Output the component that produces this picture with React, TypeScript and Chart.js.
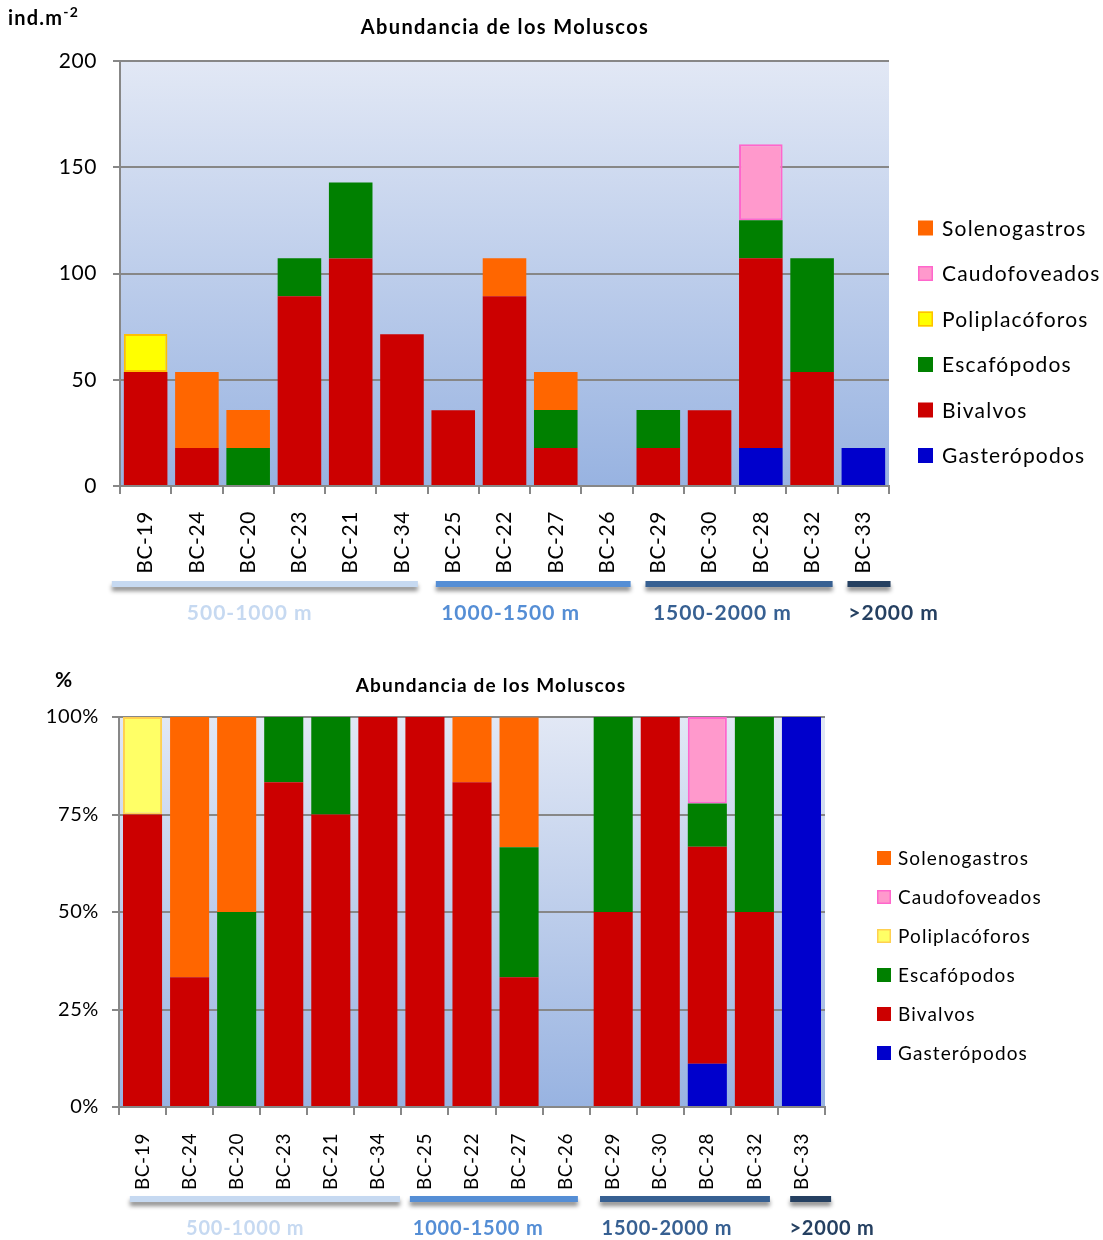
import React, { useEffect, useRef } from 'react';
import { Chart, registerables } from 'chart.js';

Chart.register(...registerables);

// ---------------- DATA ----------------
const categories = ['BC-19', 'BC-24', 'BC-20', 'BC-23', 'BC-21', 'BC-34', 'BC-25', 'BC-22', 'BC-27', 'BC-26', 'BC-29', 'BC-30', 'BC-28', 'BC-32', 'BC-33'];

// Abundance (ind.m-2)
const gasteropodos = [0, 0, 0, 0, 0, 0, 0, 0, 0, 0, 0, 0, 17.9, 0, 17.9];
const bivalvos = [53.6, 17.9, 0, 89.3, 107.1, 71.4, 35.7, 89.3, 17.9, 0, 17.9, 35.7, 89.3, 53.6, 0];
const escafopodos = [0, 0, 17.9, 17.9, 35.7, 0, 0, 0, 17.9, 0, 17.9, 0, 17.9, 53.6, 0];
const poliplacoforos = [17.9, 0, 0, 0, 0, 0, 0, 0, 0, 0, 0, 0, 0, 0, 0];
const caudofoveados = [0, 0, 0, 0, 0, 0, 0, 0, 0, 0, 0, 0, 35.7, 0, 0];
const solenogastros = [0, 35.7, 17.9, 0, 0, 0, 0, 17.9, 17.9, 0, 0, 0, 0, 0, 0];

// Relative abundance (%)
const gasteropodosPct = [0, 0, 0, 0, 0, 0, 0, 0, 0, 0, 0, 0, 11.1, 0, 100];
const bivalvosPct = [75, 33.3, 0, 83.3, 75, 100, 100, 83.3, 33.3, 0, 50, 100, 55.6, 50, 0];
const escafopodosPct = [0, 0, 50, 16.7, 25, 0, 0, 0, 33.3, 0, 50, 0, 11.1, 50, 0];
const poliplacoforosPct = [25, 0, 0, 0, 0, 0, 0, 0, 0, 0, 0, 0, 0, 0, 0];
const caudofoveadosPct = [0, 0, 0, 0, 0, 0, 0, 0, 0, 0, 0, 0, 22.2, 0, 0];
const solenogastrosPct = [0, 66.7, 50, 0, 0, 0, 0, 16.7, 33.3, 0, 0, 0, 0, 0, 0];

const absTicks = [0, 50, 100, 150, 200];
const pctTicks = [0, 25, 50, 75, 100];

const depthZones = ['500-1000 m', '1000-1500 m', '1500-2000 m', '>2000 m'];
const zoneStationCounts = [6, 4, 4, 1];

const chartTitle = 'Abundancia de los Moluscos';

// ---------------- STYLE ----------------
const FONT = 'Lato, "Open Sans", sans-serif';
const zoneColors = ['#C6D9F1', '#558ED5', '#376092', '#254061'];
const zoneLabelColors = ['#C6D9F1', '#558ED5', '#376092', '#254061'];
const GRID = '#878787';

type Series = { label: string; data: number[]; bg: string; border: string; bw: number };

function makeSeries(pct: boolean): Series[] {
  return [
    { label: 'Gasterópodos', data: pct ? gasteropodosPct : gasteropodos, bg: '#0000CC', border: '#0000CC', bw: 0 },
    { label: 'Bivalvos', data: pct ? bivalvosPct : bivalvos, bg: '#CC0000', border: '#CC0000', bw: 0 },
    { label: 'Escafópodos', data: pct ? escafopodosPct : escafopodos, bg: '#008000', border: '#008000', bw: 0 },
    { label: 'Poliplacóforos', data: pct ? poliplacoforosPct : poliplacoforos, bg: pct ? '#FFFF66' : '#FFFF00', border: pct ? '#FFD050' : '#FFC000', bw: 2 },
    { label: 'Caudofoveados', data: pct ? caudofoveadosPct : caudofoveados, bg: '#FF99CC', border: '#FF66CC', bw: 2 },
    { label: 'Solenogastros', data: pct ? solenogastrosPct : solenogastros, bg: '#FF6600', border: '#FF6600', bw: 0 },
  ];
}

type Layout = {
  width: number; height: number;
  area: { left: number; top: number; right: number; bottom: number };
  tickFont: number; xTickFont: number; xTickPad: number; yTickPad: number;
  barPct: number;
  title: { x: number; y: number; size: number; spacing: number };
  unit: { x: number; y: number; size: number; spacing: number; text: string; sup?: string };
  bandY: number; bandH: number;
  bandInsets: number[][];
  labelCenters: number[]; labelY: number; labelSize: number; labelSpacing: number;
  legend: { boxX: number; textX: number; y0: number; step: number; box: number; size: number; spacing: number };
  ticks: number[]; pct: boolean;
};

function makePlugins(L: Layout) {
  return [
    {
      id: 'bgGradient',
      beforeDraw(chart: any) {
        const { ctx, chartArea: a } = chart;
        const g = ctx.createLinearGradient(0, a.top, 0, a.bottom);
        g.addColorStop(0, '#E2E8F5');
        g.addColorStop(1, '#98B3E1');
        ctx.save();
        ctx.fillStyle = g;
        ctx.fillRect(a.left, a.top, a.right - a.left, a.bottom - a.top);
        ctx.restore();
        (ctx as any).letterSpacing = '0.6px';
      },
    },
    {
      id: 'decor',
      afterDraw(chart: any) {
        const { ctx } = chart;
        const xs = chart.scales.x;
        (ctx as any).letterSpacing = '0px';
        ctx.save();
        // title
        ctx.font = `bold ${L.title.size}px ${FONT}`;
        (ctx as any).letterSpacing = `${L.title.spacing}px`;
        ctx.fillStyle = '#000';
        ctx.textAlign = 'center';
        ctx.textBaseline = 'middle';
        ctx.fillText(chartTitle, L.title.x, L.title.y);
        // unit label
        (ctx as any).letterSpacing = `${L.unit.spacing}px`;
        ctx.textAlign = 'left';
        ctx.font = `bold ${L.unit.size}px ${FONT}`;
        ctx.fillText(L.unit.text, L.unit.x, L.unit.y);
        if (L.unit.sup) {
          const w = ctx.measureText(L.unit.text).width;
          ctx.font = `bold ${Math.round(L.unit.size * 0.68)}px ${FONT}`;
          ctx.fillText(L.unit.sup, L.unit.x + w, L.unit.y - 7);
        }
        (ctx as any).letterSpacing = '0px';
        // depth bands
        let start = 0;
        zoneStationCounts.forEach((n, i) => {
          const first = start;
          const last = start + n - 1;
          start += n;
          const [inL, inR] = L.bandInsets[i];
          const x0 = xs.getPixelForValue(first - 0.5 + inL);
          const x1 = xs.getPixelForValue(last + 0.5 - inR);
          ctx.save();
          ctx.shadowColor = 'rgba(0,0,0,0.45)';
          ctx.shadowBlur = 4;
          ctx.shadowOffsetY = 4;
          ctx.fillStyle = zoneColors[i];
          ctx.fillRect(x0, L.bandY, x1 - x0, L.bandH);
          ctx.restore();
          ctx.save();
          ctx.font = `bold ${L.labelSize}px ${FONT}`;
          (ctx as any).letterSpacing = `${L.labelSpacing}px`;
          ctx.fillStyle = zoneLabelColors[i];
          ctx.textAlign = 'center';
          ctx.textBaseline = 'middle';
          ctx.fillText(depthZones[i], xs.getPixelForValue(L.labelCenters[i]), L.labelY);
          ctx.restore();
        });
        // legend (reverse order of stacking)
        const ds = [...chart.data.datasets].reverse();
        const lg = L.legend;
        ds.forEach((d: any, i: number) => {
          const cy = lg.y0 + i * lg.step;
          ctx.fillStyle = d.backgroundColor;
          ctx.fillRect(lg.boxX, cy - lg.box / 2, lg.box, lg.box);
          if (d.borderWidth > 0) {
            ctx.strokeStyle = d.borderColor;
            ctx.lineWidth = 1.5;
            ctx.strokeRect(lg.boxX + 0.75, cy - lg.box / 2 + 0.75, lg.box - 1.5, lg.box - 1.5);
          }
          ctx.fillStyle = '#000';
          ctx.font = `${lg.size}px ${FONT}`;
          (ctx as any).letterSpacing = `${lg.spacing}px`;
          ctx.textAlign = 'left';
          ctx.textBaseline = 'middle';
          ctx.fillText(d.label, lg.textX, cy + 1);
          (ctx as any).letterSpacing = '0px';
        });
        ctx.restore();
      },
    },
  ];
}

function buildConfig(L: Layout): any {
  const series = makeSeries(L.pct);
  const xAxisH = L.height - L.area.bottom;
  return {
    type: 'bar',
    data: {
      labels: categories,
      datasets: series.map((s) => ({
        label: s.label,
        data: s.data,
        backgroundColor: s.bg,
        borderColor: s.border,
        borderWidth: s.bw,
        borderSkipped: false,
        categoryPercentage: 1,
        barPercentage: L.barPct,
      })),
    },
    options: {
      responsive: false,
      animation: false,
      events: [],
      layout: { padding: { left: 0, top: L.area.top, right: L.width - L.area.right, bottom: 0 } },
      plugins: { legend: { display: false }, title: { display: false }, tooltip: { enabled: false } },
      scales: {
        x: {
          stacked: true,
          grid: { drawOnChartArea: false, drawTicks: true, tickLength: 8, color: GRID, lineWidth: 2, offset: true },
          border: { display: true, color: GRID, width: 2 },
          ticks: {
            autoSkip: false, minRotation: 90, maxRotation: 90, padding: L.xTickPad,
            color: '#000', font: { family: FONT, size: L.xTickFont },
          },
          afterFit: (s: any) => { s.height = xAxisH; },
        },
        y: {
          stacked: true,
          min: L.ticks[0],
          max: L.ticks[L.ticks.length - 1],
          grid: { color: GRID, lineWidth: 2, tickLength: 7, drawTicks: true },
          border: { display: true, color: GRID, width: 2 },
          ticks: {
            padding: L.yTickPad, color: '#000', font: { family: FONT, size: L.tickFont },
            callback: (v: any) => (L.pct ? `${v}%` : `${v}`),
          },
          afterBuildTicks: (axis: any) => { axis.ticks = L.ticks.map((v) => ({ value: v })); },
          afterFit: (s: any) => { s.width = L.area.left; },
        },
      },
    },
    plugins: makePlugins(L),
  };
}

const topLayout: Layout = {
  width: 1103, height: 650,
  area: { left: 120, top: 61, right: 889, bottom: 486 },
  tickFont: 21, xTickFont: 21, xTickPad: 17, yTickPad: 16,
  barPct: 0.85,
  title: { x: 505, y: 28, size: 20, spacing: 1.4 },
  unit: { x: 8, y: 19, size: 20, spacing: 1.2, text: 'ind.m', sup: '-2' },
  bandY: 581, bandH: 6,
  bandInsets: [[-0.16, 0.19], [0.16, 0.04], [0.25, 0.1], [0.19, -0.03]],
  labelCenters: [2.03, 7.12, 11.25, 14.59], labelY: 613, labelSize: 21, labelSpacing: 1.0,
  legend: { boxX: 918, textX: 942, y0: 228, step: 45.5, box: 15, size: 21, spacing: 1.2 },
  ticks: absTicks, pct: false,
};

const bottomLayout: Layout = {
  width: 1103, height: 590,
  area: { left: 119, top: 67, right: 825, bottom: 457 },
  tickFont: 20, xTickFont: 19, xTickPad: 18, yTickPad: 13,
  barPct: 0.83,
  title: { x: 491, y: 36, size: 19, spacing: 1.2 },
  unit: { x: 55, y: 30, size: 21, spacing: 0, text: '%' },
  bandY: 546, bandH: 6,
  bandInsets: [[0.23, 0.03], [0.18, 0.25], [0.22, 0.17], [0.26, -0.13]],
  labelCenters: [2.18, 7.13, 11.14, 14.65], labelY: 579, labelSize: 20, labelSpacing: 0.8,
  legend: { boxX: 877, textX: 898, y0: 208, step: 39, box: 14, size: 19, spacing: 1.1 },
  ticks: pctTicks, pct: true,
};

function ChartBox({ layout, top }: { layout: Layout; top: number }) {
  const ref = useRef<HTMLCanvasElement>(null);
  useEffect(() => {
    if (!ref.current) return;
    const chart = new Chart(ref.current, buildConfig(layout));
    return () => chart.destroy();
  }, [layout]);
  return (
    <canvas
      ref={ref}
      width={layout.width}
      height={layout.height}
      style={{ position: 'absolute', left: 0, top, width: layout.width, height: layout.height }}
    />
  );
}

export default function App() {
  return (
    <div style={{ position: 'absolute', left: 0, top: 0, width: 1103, height: 1240, background: '#fff', overflow: 'hidden' }}>
      <ChartBox layout={topLayout} top={0} />
      <ChartBox layout={bottomLayout} top={650} />
    </div>
  );
}
